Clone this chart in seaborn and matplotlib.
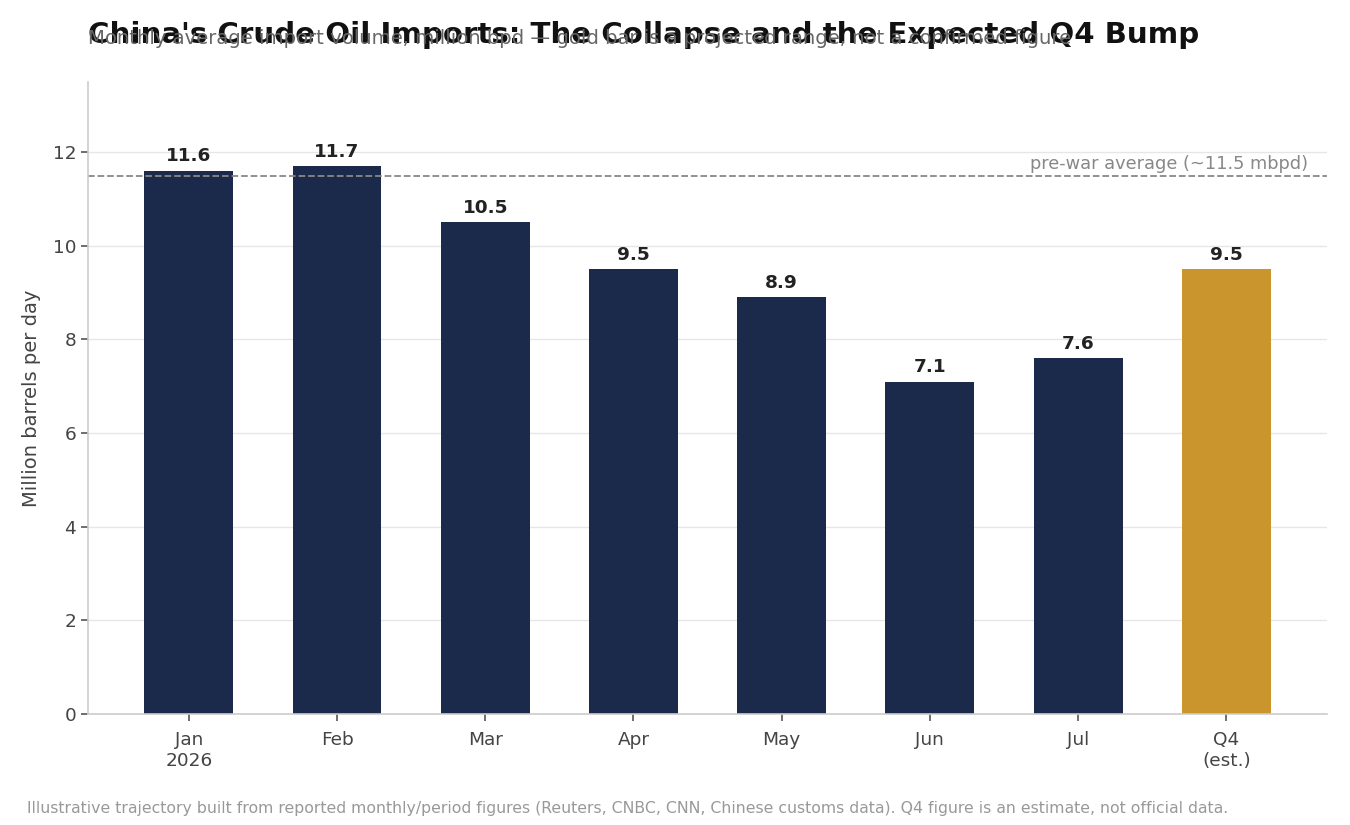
import matplotlib
matplotlib.use('Agg')
import matplotlib.pyplot as plt
import matplotlib.transforms as mtransforms
import seaborn as sns
import pandas as pd

months = ['Jan\n2026', 'Feb', 'Mar', 'Apr', 'May', 'Jun', 'Jul', 'Q4\n(est.)']
imports_mbpd = [11.6, 11.7, 10.5, 9.5, 8.9, 7.1, 7.6, 9.5]
is_estimate = [False, False, False, False, False, False, False, True]
pre_war_avg = 11.5

NAVY = '#1b2a4a'
GOLD = '#c9952c'

sns.set_theme()
sns.set_style('whitegrid')
plt.rcParams['font.family'] = ['DejaVu Sans']

df = pd.DataFrame({'month': months, 'value': imports_mbpd,
                   'kind': ['est' if e else 'actual' for e in is_estimate]})

fig = plt.figure(figsize=(13.5, 8.25), dpi=100)
ax = fig.add_axes([0.0652, 0.1345, 0.9178, 0.7661])

sns.barplot(data=df, x='month', y='value', hue='kind',
            palette={'actual': NAVY, 'est': GOLD}, width=0.6,
            dodge=False, legend=False, ax=ax, saturation=1, linewidth=0)

for i, v in enumerate(imports_mbpd):
    ax.annotate(f'{v:.1f}', (i, v), xytext=(0, 4), textcoords='offset points',
                ha='center', va='bottom', fontsize=13.3, fontweight='bold', color='#222222')

ax.axhline(pre_war_avg, color='#888888', linestyle='--', linewidth=1.3, zorder=1)
trans = mtransforms.blended_transform_factory(ax.transAxes, ax.transData)
ax.text(0.985, pre_war_avg + 0.05, 'pre-war average (~11.5 mbpd)', transform=trans,
        ha='right', va='bottom', fontsize=12.8, color='#888888')

ax.set_xlim(-0.68, 7.68)
ax.set_ylim(0, 13.5)
ax.set_xlabel('')
ax.set_ylabel('Million barrels per day', fontsize=14, color='#444444', labelpad=8)
ax.set_facecolor('white')
ax.grid(axis='x', visible=False)
ax.grid(axis='y', color='#e6e6e6', linewidth=1)
ax.set_axisbelow(True)
for s in ['top', 'right']:
    ax.spines[s].set_visible(False)
for s in ['left', 'bottom']:
    ax.spines[s].set_color('#cccccc')
    ax.spines[s].set_linewidth(1.2)
ax.tick_params(axis='both', labelsize=13.3, colors='#444444', length=5,
               left=True, bottom=True, width=1.2)
ax.tick_params(axis='x', pad=7)
ax.tick_params(axis='both', color='#555555')

fig.text(0.0652, 0.958, "China's Crude Oil Imports: The Collapse and the Expected Q4 Bump",
         fontsize=21.05, fontweight='bold', color='#111111', ha='left', va='center')
fig.text(0.0652, 0.953,
         'Monthly average import volume, million bpd \u2014 gold bar is a projected range, not a confirmed figure',
         fontsize=14.1, color='#666666', ha='left', va='center')
fig.text(0.02, 0.0206,
         'Illustrative trajectory built from reported monthly/period figures (Reuters, CNBC, CNN, Chinese customs data). '
         'Q4 figure is an estimate, not official data.',
         fontsize=11.3, color='#999999', ha='left', va='center')

fig.savefig('out.png', dpi=100, facecolor='white')
